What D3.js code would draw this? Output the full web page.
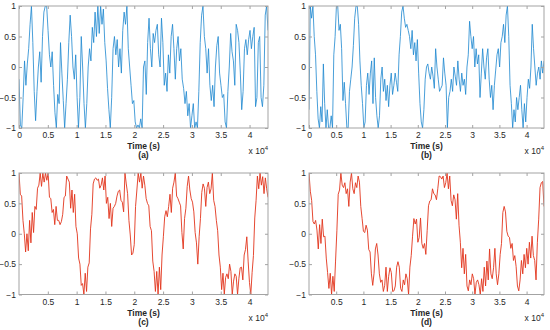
<!DOCTYPE html>
<html>
<head>
<meta charset="utf-8">
<script src="https://cdn.jsdelivr.net/npm/d3@7"></script>
<style>
body { margin: 0; background: #fff; }
svg { display: block; font-family: "Liberation Sans", Arial, sans-serif; }
</style>
</head>
<body>
<div id="chart"></div>
<script>
// 12 h of samples, x axis in seconds
const duration = 43200;
const xTicksFull = [0, 5000, 10000, 15000, 20000, 25000, 30000, 35000, 40000];
const xTicksNoZero = [5000, 10000, 15000, 20000, 25000, 30000, 35000, 40000];
const yTicks = [-1, -0.5, 0, 0.5, 1];
const xLabel = 'Time (s)';
const panelLabels = ['(a)', '(b)', '(c)', '(d)'];

// values, evenly spaced over the 12 h
const seriesA = [
  -0.2,-0.95,-1,-0.5,0.1,-0.3,0.05,0.3,0.7,1,
  0.4,-0.4,-0.88,-0.4,0,0.25,-0.25,0.5,0.9,1,
  1,0.6,0.2,0,0.25,-0.3,-0.75,-1,-0.45,-0.6,
  0.4,-0.1,-0.55,-1,-0.6,-0.2,0.4,0.85,0.5,0,
  -0.2,0.2,-0.5,-1,-0.5,0.5,0,-0.6,-1,-0.6,
  0,0.3,0.1,0.65,0.4,0.9,0.5,1,0.55,1,
  0.7,0.95,0.4,0.1,-0.35,-0.7,-1,-0.5,0.3,0.5,
  0.2,0.45,0,0.3,-0.1,0.6,0.9,0.7,1,0.3,
  0,-0.3,-0.6,-0.55,-0.9,-1,-0.95,-1,-0.85,-1,
  0,0.1,-0.45,0.4,0.8,0.3,0,0.55,0.4,0.6,
  0.7,0.2,0,0.8,0.4,-0.3,-0.1,-0.4,0.2,-0.1,
  0.5,0.7,0.3,-0.2,0.3,0.5,0.1,0.3,-0.2,-0.35,
  -0.6,-0.4,-0.8,-0.6,-1,-0.8,-0.6,-1,-0.9,-1,
  -0.4,0.4,0.85,1,0.5,0.3,-0.1,0.3,-0.3,-0.55,
  -0.3,-0.65,0,0.35,0.5,-0.1,-0.3,-0.5,-0.45,-0.9,
  -1,-0.4,0,0.55,0.25,0.1,-0.3,0.7,0.6,0.4,
  -0.1,-0.7,-0.4,0.3,0.45,0.2,0.45,0.6,0.3,0.5,
  0.65,-0.65,-0.5,0.4,0.5,-0.5,-0.65,-0.3,0.85,1,
  0.6
];

const seriesB = [
  -0.7,1,0.8,1,0.5,0.2,-0.4,-0.85,-1,-0.65,
  -0.9,0.05,-0.6,-1,-0.7,-1,-1,-0.8,-1,0.2,
  0.5,1,1,0.6,0.7,0.3,-0.55,-0.25,-0.6,-1,
  -1,-0.4,-0.2,0,0.35,0.8,1,1,0.7,0.1,
  -0.3,-0.6,-1,-0.9,-0.3,-0.1,-0.45,-0.1,0.1,-0.6,
  0.15,-0.5,-0.8,-1,-0.8,-0.2,0,-0.4,-0.2,-0.55,
  -0.3,-0.65,-0.3,-0.1,-0.45,-0.3,-0.1,-0.25,-0.4,0.2,
  0.5,0.9,1,0.8,0.65,0.7,0.6,0.5,0.3,0.6,
  0.2,0.4,0.1,0.45,-0.1,-0.6,-0.9,-1,-0.7,-0.2,
  0,0.05,-0.1,-0.2,0,-0.15,-0.35,0.3,0,-0.2,
  -0.4,-0.35,-0.3,0.15,-0.1,-0.3,-1,-0.5,-0.4,-0.2,
  -0.4,0,-0.15,-0.3,0.1,-0.2,-0.4,-0.1,-0.3,-0.2,
  -0.45,0,0.2,0.75,0.5,0.3,0.5,0,0.3,0.05,
  0.2,-0.5,-0.1,0.3,0,-0.2,0.15,0.3,-0.2,-0.5,
  -0.3,-0.7,-0.3,-0.05,0.2,0.3,0,0.4,0.5,0.7,
  0.4,0.85,1,0.5,-0.3,-0.6,-1,-0.7,-0.9,-0.5,
  -0.7,-0.5,-0.3,-0.7,-1,-0.6,-0.9,-0.5,-0.2,-0.35,
  0,0.7,0.3,0,-0.3,-0.1,0,-0.2,0.1,-0.1,
  0.1
];

const seriesC = [
  1,0.65,0.62,0.22,0,-0.3,0,-0.28,0.22,-0.15,
  0.35,0.02,0.45,0.4,0.75,0.8,1,0.78,1,0.85,
  1,0.88,1,0.6,0.58,0.35,0.4,0.15,0.45,0.22,
  0.22,0.15,0.2,0.32,0.6,0.62,0.95,0.9,0.85,0.42,
  0.72,0.35,0.65,0.12,0,-0.4,-0.5,-0.85,-0.82,-1,
  -0.65,-0.95,-0.55,-0.48,0.08,0.32,0.82,0.9,0.92,0.88,
  0.9,0.75,0.8,0.92,0.72,0.95,0.5,0.6,0.25,0.5,
  0.12,0.42,0.45,0.5,0.62,0.7,0.72,0.55,0.52,0.36,
  1,0.82,0.66,0.22,-0.02,-0.35,-0.32,-0.18,0.45,0.72,
  1,0.85,1,0.75,0.95,0.8,0.58,0.5,0.46,0.12,
  0.05,-0.45,-0.62,-0.95,-0.62,-1,-0.55,-0.92,-0.35,-0.05,
  0.28,0.38,0.28,0.45,0.65,0.35,0.75,0.85,1,0.62,
  0.58,0.52,0.46,0.02,-0.25,0.25,0.42,0.78,0.95,0.72,
  0.58,0.52,0.36,0.02,-0.15,-0.5,-0.05,0.25,0.68,0.82,
  0.75,0.45,0.76,0.85,0.66,0.74,1,0.55,0.45,0.22,
  0.05,-0.35,-0.55,-0.92,-0.65,-1,-0.72,-0.66,-0.74,-0.5,
  -0.62,-1,-0.78,-0.66,-0.7,-1,-0.74,-0.56,-0.55,-0.76,
  -0.35,-0.26,-0.05,-0.45,-0.8,-1,-0.64,-0.36,0.26,0.55,
  0.95,0.74,1,0.8,0.94,0.66,0.92,0.74,0.6
];

const seriesD = [
  1,0.7,0.55,0.2,0.16,0.22,0.06,-0.25,0.15,-0.16,
  0.24,-0.05,-0.04,-0.4,-0.64,-0.9,-0.65,-1,-0.7,-0.95,
  -0.45,0.05,0.65,0.72,1,0.8,0.76,0.84,0.66,0.74,
  0.45,0.85,1,0.74,0.66,0.84,0.76,0.95,0.85,0.45,
  0.25,0.04,0.02,0.14,0.06,-0.26,-0.3,-0.66,-0.85,-0.65,
  -0.25,-0.16,-0.35,-0.66,-0.8,-0.76,-0.95,-0.85,-0.55,-0.95,
  -0.7,-0.56,-0.64,-0.95,-0.94,-0.86,-0.55,-0.46,-0.55,-0.9,
  -0.95,-0.76,-0.84,-0.66,-0.74,-1,-0.55,-0.36,-0.04,0.25,
  0.16,0.24,-0.14,-0.06,0.26,-0.16,-0.24,-0.16,-0.34,0.05,
  0.46,0.54,0.56,0.74,0.66,0.64,0.56,0.74,0.95,0.94,
  0.9,0.95,0.76,0.84,1,0.74,0.95,0.55,0.46,0.64,
  0.56,0.24,0.66,0.14,-0.14,-0.56,-0.24,-0.66,-0.34,-0.86,
  -0.94,-0.76,-0.84,-0.66,-0.74,-1,-0.8,-0.76,-0.84,-1,
  -0.74,-0.95,-0.55,-0.86,-0.45,-0.76,-0.25,-0.66,-0.74,-0.56,
  -0.24,-0.66,-0.84,-0.66,-0.34,-0.16,0.35,0.45,0.36,0.04,
  -0.04,-0.06,-0.24,-0.16,-0.44,-0.36,-0.54,-0.86,-0.94,-0.76,
  -0.44,-0.66,-0.34,-0.56,-0.24,-0.5,-0.14,-0.4,-0.04,-0.36,
  -0.44,-0.76,-0.14,0.24,0.76,0.84,0.86,0.45
];

const blue = '#1c86cf';
const red = '#e2341c';
const axisColor = '#a3a3a3';
const textColor = '#262626';

const width = 550, height = 330;

const svg = d3.select('#chart')
  .append('svg')
  .attr('width', width)
  .attr('height', height);

const panels = [
  { values: seriesA, color: blue, lw: 0.8, ticks: xTicksFull, start: 0, box: { left: 19, top: 6, right: 268, bottom: 128 } },
  { values: seriesB, color: blue, lw: 0.8, ticks: xTicksFull, start: 0, box: { left: 309, top: 6, right: 544, bottom: 128 } },
  { values: seriesC, color: red, lw: 0.9, ticks: xTicksNoZero, start: 1, box: { left: 19, top: 173, right: 268, bottom: 294.5 } },
  { values: seriesD, color: red, lw: 0.9, ticks: xTicksNoZero, start: 1, box: { left: 309, top: 173, right: 544, bottom: 294.5 } }
];

panels.forEach((p, k) => drawPanel(p, panelLabels[k], k));

function drawPanel(p, label, k) {
  const b = p.box;
  const x = d3.scaleLinear().domain([p.start, duration]).range([b.left, b.right]);
  const y = d3.scaleLinear().domain([-1, 1]).range([b.bottom, b.top]);
  const g = svg.append('g');

  // signal
  g.append('clipPath').attr('id', 'clip' + k)
    .append('rect')
    .attr('x', b.left).attr('y', b.top)
    .attr('width', b.right - b.left).attr('height', b.bottom - b.top);

  const n = p.values.length;
  const t = i => p.start + i * (duration - p.start) / (n - 1);
  const line = d3.line().x((d, i) => x(t(i))).y(d => y(d));

  g.append('path')
    .datum(p.values)
    .attr('clip-path', `url(#clip${k})`)
    .attr('fill', 'none')
    .attr('stroke', p.color)
    .attr('stroke-width', p.lw)
    .attr('d', line);

  // axes, ticks pointing in like matlab
  const fmt = d => d3.format('~g')(d / 1e4);
  const styleAxis = sel => {
    sel.select('.domain').remove();
    sel.selectAll('line').attr('stroke', axisColor);
    sel.selectAll('text').attr('fill', textColor).style('font-size', '8.5px');
  };

  g.append('g')
    .attr('transform', `translate(0,${b.bottom})`)
    .call(d3.axisBottom(x).tickValues(p.ticks).tickFormat(fmt).tickSize(-3).tickPadding(4))
    .call(styleAxis);
  g.append('g')
    .attr('transform', `translate(0,${b.top})`)
    .call(d3.axisTop(x).tickValues(p.ticks).tickFormat('').tickSize(-3))
    .call(styleAxis);
  g.append('g')
    .attr('transform', `translate(${b.left},0)`)
    .call(d3.axisLeft(y).tickValues(yTicks).tickFormat(d3.format('~g')).tickSize(-3).tickPadding(3))
    .call(styleAxis);
  g.append('g')
    .attr('transform', `translate(${b.right},0)`)
    .call(d3.axisRight(y).tickValues(yTicks).tickFormat('').tickSize(-3))
    .call(styleAxis);

  g.append('rect')
    .attr('x', b.left).attr('y', b.top)
    .attr('width', b.right - b.left).attr('height', b.bottom - b.top)
    .attr('fill', 'none')
    .attr('stroke', axisColor)
    .attr('stroke-width', 1);

  const cx = (b.left + b.right) / 2;
  g.append('text')
    .attr('x', cx).attr('y', b.bottom + 21)
    .attr('text-anchor', 'middle')
    .attr('font-weight', 'bold')
    .attr('font-size', '8.5px')
    .attr('fill', textColor)
    .text(xLabel);

  g.append('text')
    .attr('x', cx).attr('y', b.bottom + 30)
    .attr('text-anchor', 'middle')
    .attr('font-weight', 'bold')
    .attr('font-size', '8.5px')
    .attr('fill', textColor)
    .text(label);

  const ex = g.append('text')
    .attr('x', b.right).attr('y', b.bottom + 26)
    .attr('text-anchor', 'end')
    .attr('font-size', '8.5px')
    .attr('fill', textColor);
  ex.append('tspan').text('x 10');
  ex.append('tspan').attr('dy', -4).attr('font-size', '6px').text('4');
}
</script>
</body>
</html>
